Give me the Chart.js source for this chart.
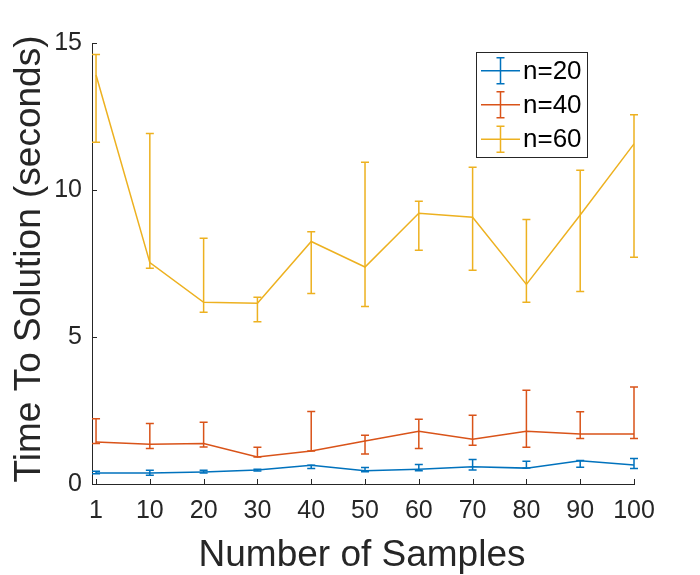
<!DOCTYPE html>
<html>
<head>
<meta charset="utf-8">
<script src="https://cdn.jsdelivr.net/npm/chart.js@4.4.1/dist/chart.umd.min.js"></script>
<style>
  body { margin: 0; background: #fff; }
  #wrap { width: 700px; height: 575px; }
</style>
</head>
<body>
<div id="wrap"><canvas id="chartTts"></canvas></div>
<script>
// sample counts on the x axis (evenly spaced)
var sampleLabels = ['1', '10', '20', '30', '40', '50', '60', '70', '80', '90', '100'];
var yTicks = [0, 5, 10, 15];

// mean time to solution and error bar ends, per n
var n20Mean = [0.37, 0.37, 0.41, 0.48, 0.64, 0.45, 0.50, 0.59, 0.54, 0.79, 0.65];
var n20Low  = [0.35, 0.30, 0.37, 0.44, 0.53, 0.42, 0.45, 0.48, 0.54, 0.57, 0.53];
var n20High = [0.43, 0.47, 0.47, 0.50, 0.64, 0.56, 0.66, 0.83, 0.77, 0.80, 0.87];

var n40Mean = [1.43, 1.35, 1.38, 0.92, 1.12, 1.46, 1.79, 1.52, 1.79, 1.70, 1.70];
var n40Low  = [1.38, 1.21, 1.26, 0.92, 1.12, 1.02, 1.21, 1.32, 1.25, 1.55, 1.55];
var n40High = [2.22, 2.06, 2.10, 1.25, 2.47, 1.66, 2.20, 2.34, 3.19, 2.46, 3.30];

var n60Mean = [13.91, 7.53, 6.18, 6.15, 8.25, 7.38, 9.21, 9.07, 6.79, 9.15, 11.57];
var n60Low  = [11.62, 7.34, 5.84, 5.52, 6.48, 6.04, 7.95, 7.27, 6.18, 6.55, 7.71];
var n60High = [14.61, 11.92, 8.36, 6.35, 8.58, 10.94, 9.62, 10.77, 9.00, 10.67, 12.56];

var axisColor = '#262626';
var fontName = '"Liberation Sans", Arial, sans-serif';

function toPoints(arr) {
    return arr.map(function(v, i) { return { x: i + 1, y: v }; });
}

// error bars, inward ticks, axis titles and the boxed legend
var matlabLook = {
    id: 'matlabLook',
    afterDatasetsDraw: function(chart) {
        var ctx = chart.ctx;
        var xs = chart.scales.x, ys = chart.scales.y;
        chart.data.datasets.forEach(function(ds) {
            ctx.save();
            ctx.strokeStyle = ds.borderColor;
            ctx.lineWidth = 1.5;
            ds.data.forEach(function(p, i) {
                var px = xs.getPixelForValue(p.x);
                var top = ys.getPixelForValue(ds.errHigh[i]);
                var bot = ys.getPixelForValue(ds.errLow[i]);
                ctx.beginPath();
                ctx.moveTo(px, top); ctx.lineTo(px, bot);
                ctx.moveTo(px - 4, top); ctx.lineTo(px + 4, top);
                ctx.moveTo(px - 4, bot); ctx.lineTo(px + 4, bot);
                ctx.stroke();
            });
            ctx.restore();
        });
    },
    afterDraw: function(chart) {
        var ctx = chart.ctx;
        var area = chart.chartArea;
        var xs = chart.scales.x, ys = chart.scales.y;
        ctx.save();
        ctx.strokeStyle = axisColor;
        ctx.lineWidth = 1;
        ctx.beginPath();
        sampleLabels.forEach(function(l, i) {
            var px = Math.round(xs.getPixelForValue(i + 1)) + 0.5;
            ctx.moveTo(px, area.bottom); ctx.lineTo(px, area.bottom - 5);
        });
        yTicks.forEach(function(v) {
            var py = Math.round(ys.getPixelForValue(v)) + 0.5;
            ctx.moveTo(area.left, py); ctx.lineTo(area.left + 5, py);
        });
        ctx.stroke();

        // axis titles
        ctx.fillStyle = axisColor;
        ctx.font = '37px ' + fontName;
        ctx.textAlign = 'center';
        ctx.textBaseline = 'alphabetic';
        ctx.fillText('Number of Samples', 362, 566);
        ctx.save();
        ctx.translate(40, 259);
        ctx.rotate(-Math.PI / 2);
        ctx.fillText('Time To Solution (seconds)', 0, 0);
        ctx.restore();

        // legend
        ctx.fillStyle = '#fff';
        ctx.fillRect(476.5, 52.5, 111, 105);
        ctx.strokeStyle = axisColor;
        ctx.strokeRect(476.5, 52.5, 111, 105);
        var rows = [70.7, 104.7, 139.3];
        chart.data.datasets.forEach(function(ds, k) {
            var cy = rows[k];
            ctx.strokeStyle = ds.borderColor;
            ctx.lineWidth = 1.5;
            ctx.beginPath();
            ctx.moveTo(481, cy); ctx.lineTo(520, cy);
            ctx.moveTo(500.5, cy - 13); ctx.lineTo(500.5, cy + 13);
            ctx.moveTo(496.5, cy - 13); ctx.lineTo(504.5, cy - 13);
            ctx.moveTo(496.5, cy + 13); ctx.lineTo(504.5, cy + 13);
            ctx.stroke();
            ctx.fillStyle = '#000';
            ctx.font = '26px ' + fontName;
            ctx.textAlign = 'left';
            ctx.textBaseline = 'middle';
            ctx.fillText(ds.label, 523, cy + 1);
        });
        ctx.restore();
    }
};

var ctx = document.getElementById('chartTts');
var ttsChart = new Chart(ctx, {
    type: 'line',
    data: {
        datasets: [{
            label: 'n=20',
            data: toPoints(n20Mean),
            errLow: n20Low, errHigh: n20High,
            borderColor: '#0072BD',
        }, {
            label: 'n=40',
            data: toPoints(n40Mean),
            errLow: n40Low, errHigh: n40High,
            borderColor: '#D95319',
        }, {
            label: 'n=60',
            data: toPoints(n60Mean),
            errLow: n60Low, errHigh: n60High,
            borderColor: '#EDB120',
        }]
    },
    plugins: [matlabLook],
    options: {
        responsive: true,
        maintainAspectRatio: false,
        animation: false,
        devicePixelRatio: 1,
        layout: { padding: { left: 0, top: 43, right: 66, bottom: 0 } },
        elements: {
            line: { borderWidth: 1.5, tension: 0 },
            point: { radius: 0 }
        },
        plugins: {
            legend: { display: false },
            tooltip: { enabled: false }
        },
        scales: {
            x: {
                type: 'linear',
                min: 0.925,
                max: 11,
                afterBuildTicks: function(scale) {
                    scale.ticks = sampleLabels.map(function(l, i) { return { value: i + 1 }; });
                },
                afterFit: function(scale) { scale.height = 91; },
                ticks: {
                    autoSkip: false,
                    maxRotation: 0,
                    padding: 12,
                    color: axisColor,
                    font: { family: fontName, size: 25 },
                    callback: function(v) { return sampleLabels[Math.round(v) - 1]; }
                },
                grid: { display: false, drawTicks: false },
                border: { display: true, color: axisColor, width: 1 }
            },
            y: {
                min: 0,
                max: 15,
                afterBuildTicks: function(scale) {
                    scale.ticks = yTicks.map(function(v) { return { value: v }; });
                },
                afterFit: function(scale) { scale.width = 92; },
                ticks: {
                    padding: 10,
                    color: axisColor,
                    font: { family: fontName, size: 25 }
                },
                grid: { display: false, drawTicks: false },
                border: { display: true, color: axisColor, width: 1 }
            }
        }
    }
});
</script>
</body>
</html>
